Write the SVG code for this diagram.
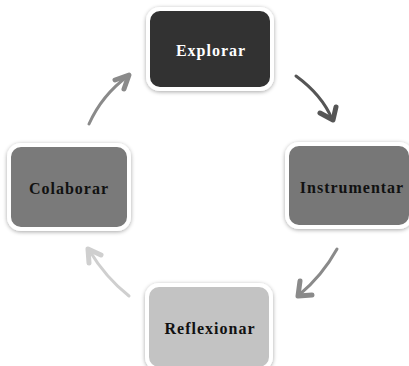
<svg xmlns="http://www.w3.org/2000/svg" width="409" height="366" viewBox="0 0 409 366">
<defs>
<filter id="sh" x="-20%" y="-20%" width="140%" height="140%"><feGaussianBlur in="SourceAlpha" stdDeviation="2"/><feOffset dx="0" dy="1"/><feComponentTransfer><feFuncA type="linear" slope="0.35"/></feComponentTransfer><feMerge><feMergeNode/><feMergeNode in="SourceGraphic"/></feMerge></filter>
</defs>
<style>
.box{stroke:#fff;stroke-width:4;filter:url(#sh)}
.lbl{font-family:"Liberation Serif","DejaVu Serif",serif;font-weight:bold;font-size:16px;letter-spacing:1px;text-anchor:middle;dominant-baseline:central}
.arr{fill:none;stroke-width:3;stroke-linecap:round;stroke-linejoin:round}
.hd{fill:none;stroke-width:5;stroke-linecap:round;stroke-linejoin:round}
</style>
<rect width="409" height="366" fill="#fff"/>
<g id="connectors">
<path class="arr" d="M89,124 Q102,95 128,76" stroke="#8a8a8a"/>
<path class="hd" d="M115,80 L129,75 L124,89" stroke="#8a8a8a"/>
<path class="arr" d="M296,76 Q322,95 332,119" stroke="#555"/>
<path class="hd" d="M320,113 L333,120 L336,107" stroke="#555"/>
<path class="arr" d="M337,249 Q322,276 299,295" stroke="#8a8a8a"/>
<path class="hd" d="M300,281 L298,296 L312,295" stroke="#8a8a8a"/>
<path class="arr" d="M129,296 Q106,278 89,250" stroke="#cfcfcf"/>
<path class="hd" d="M89,263 L88,249 L101,255" stroke="#cfcfcf"/>
</g>
<g id="explorar">
<rect class="box" x="148" y="9" width="124" height="80" rx="12" fill="#333"/>
<text class="lbl" x="211" y="50" fill="#fff">Explorar</text>
</g>
<g id="instrumentar">
<rect class="box" x="287" y="144" width="124" height="83" rx="12" fill="#777"/>
<text class="lbl" x="352" y="187" fill="#111">Instrumentar</text>
</g>
<g id="reflexionar">
<rect class="box" x="147" y="285" width="124" height="84" rx="12" fill="#c3c3c3"/>
<text class="lbl" x="210" y="328" fill="#111">Reflexionar</text>
</g>
<g id="colaborar">
<rect class="box" x="9" y="145" width="120" height="84" rx="12" fill="#7a7a7a"/>
<text class="lbl" x="69" y="188" fill="#111">Colaborar</text>
</g>
</svg>
